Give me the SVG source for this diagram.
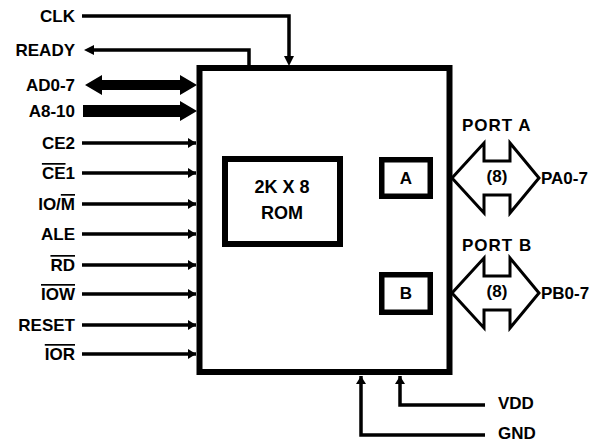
<svg xmlns="http://www.w3.org/2000/svg" width="596" height="443" viewBox="0 0 596 443">
<style>
text{font-family:"Liberation Sans",Arial,sans-serif;font-weight:bold;font-size:17px;fill:#000}
.l{text-anchor:end}
.m{text-anchor:middle}
.big{font-size:18px}
.sp{letter-spacing:1px}
.w{fill:none;stroke:#000;stroke-width:3.5}
.box{fill:#fff;stroke:#000}
.ol{text-decoration:overline}
</style>
<defs>
<marker id="ah" viewBox="0 0 8 10" refX="8" refY="5" markerWidth="8" markerHeight="10" markerUnits="userSpaceOnUse" orient="auto">
<path d="M0,0L8,5L0,10z" fill="#000"/>
</marker>
</defs>
<rect width="596" height="443" fill="#fff"/>
<g id="chip">
<rect class="box" x="199.5" y="68" width="250" height="304" stroke-width="6"/>
</g>
<g id="rom">
<rect class="box" x="225" y="159" width="115" height="85" stroke-width="6"/>
<text class="m big" x="282" y="193">2K X 8</text>
<text class="m big" x="282" y="219">ROM</text>
</g>
<g id="regA">
<rect class="box" x="381.75" y="159.75" width="48.5" height="36.5" stroke-width="5.5"/>
<text class="m" x="406" y="184">A</text>
</g>
<g id="regB">
<rect class="box" x="381.75" y="274.75" width="48.5" height="37.5" stroke-width="5.5"/>
<text class="m" x="406" y="299">B</text>
</g>
<g id="connectors">
<path class="w" d="M82,16H289V57" />
<path d="M284,56H294L289,66z"/>
<path class="w" d="M249,66V50H93"/>
<path d="M94,45V55L84,50z"/>
<path d="M85,85L102,75V80H180V75L197,85L180,95V90H102V95z"/>
<path d="M83,105H180V101L197,111L180,121V117H83z"/>
<path class="w" d="M82,143H196" marker-end="url(#ah)"/>
<path class="w" d="M82,173H196" marker-end="url(#ah)"/>
<path class="w" d="M82,204H196" marker-end="url(#ah)"/>
<path class="w" d="M82,234H196" marker-end="url(#ah)"/>
<path class="w" d="M82,265H196" marker-end="url(#ah)"/>
<path class="w" d="M82,294H196" marker-end="url(#ah)"/>
<path class="w" d="M82,325H196" marker-end="url(#ah)"/>
<path class="w" d="M82,354H196" marker-end="url(#ah)"/>
<path class="w" d="M485,435H361V376" marker-end="url(#ah)"/>
<path class="w" d="M485,405H400V376" marker-end="url(#ah)"/>
<path d="M452,178L484,143V161H510V143L539,178L510,213V195H484V213z" fill="#fff" stroke="#000" stroke-width="3" stroke-linejoin="miter"/>
<path d="M452,293L484,258V276H510V258L539,293L510,328V310H484V328z" fill="#fff" stroke="#000" stroke-width="3" stroke-linejoin="miter"/>
</g>
<g id="labels">
<text class="l" x="75" y="22">CLK</text>
<text class="l" x="75" y="56">READY</text>
<text class="l" x="75" y="91">AD0-7</text>
<text class="l" x="75" y="117">A8-10</text>
<text class="l" x="75" y="149">CE2</text>
<text class="l" x="75" y="179"><tspan class="ol">CE</tspan>1</text>
<text class="l" x="75" y="210">IO/<tspan class="ol">M</tspan></text>
<text class="l" x="75" y="240">ALE</text>
<text class="l" x="75" y="271"><tspan class="ol">RD</tspan></text>
<text class="l" x="75" y="300"><tspan class="ol">IOW</tspan></text>
<text class="l" x="75" y="331">RESET</text>
<text class="l" x="75" y="360"><tspan class="ol">IOR</tspan></text>
<text class="sp" x="462" y="131">PORT A</text>
<text class="m" x="497" y="182">(8)</text>
<text x="541" y="184">PA0-7</text>
<text class="sp" x="462" y="251">PORT B</text>
<text class="m" x="497" y="297">(8)</text>
<text x="541" y="299">PB0-7</text>
<text x="498" y="409">VDD</text>
<text x="498" y="439">GND</text>
</g>
</svg>
